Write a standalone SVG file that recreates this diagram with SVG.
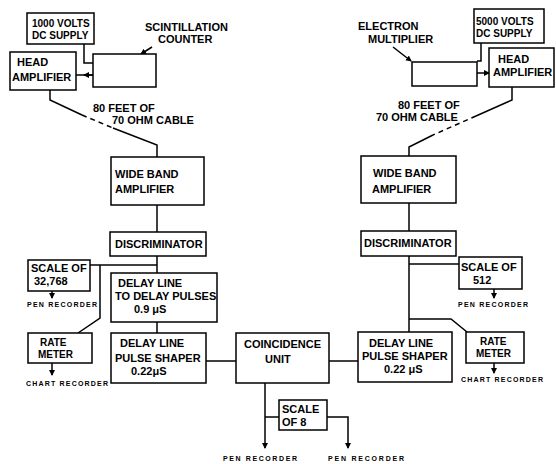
<svg xmlns="http://www.w3.org/2000/svg" width="556" height="464" viewBox="0 0 556 464">
<defs>
<marker id="ah" markerWidth="6" markerHeight="6" refX="5" refY="3" orient="auto" markerUnits="userSpaceOnUse">
<path d="M0,0 L6,3 L0,6 Z" fill="#000"/>
</marker>
<style>
.b{fill:#fff;stroke:#000;stroke-width:1.5}
.l{fill:none;stroke:#000;stroke-width:1.5}
.d{fill:none;stroke:#000;stroke-width:1.5;stroke-dasharray:5 4}
text{font-family:"Liberation Sans",Arial,sans-serif;font-weight:bold;font-size:11px;fill:#000}
.m{font-size:10px}
.s{font-size:7px}
</style>
</defs>
<rect width="556" height="464" fill="#fff"/>
<g id="connectors">
<path class="l" d="M84,44 V63 H93"/>
<path class="l" d="M93,75 H76"/>
<path class="l" d="M93,75 H84" marker-end="url(#ah)"/>
<path class="l" d="M152,47 L141,54" marker-end="url(#ah)"/>
<path class="l" d="M50,90 V100 L82,115"/>
<path class="d" d="M82,115 L113,128"/>
<path class="l" d="M113,128 L157,145 V157"/>
<path class="l" d="M481,43 V61 H477"/>
<path class="l" d="M477,73 H489" marker-end="url(#ah)"/>
<path class="l" d="M393,47 L411,61" marker-end="url(#ah)"/>
<path class="l" d="M512,87 V100 L476,116"/>
<path class="d" d="M476,116 L433,135"/>
<path class="l" d="M433,135 L409,147 V156"/>
<path class="l" d="M157,205 V232"/>
<path class="l" d="M157,256 V273"/>
<path class="l" d="M90,265 H157"/>
<path class="l" d="M100,265 V318 L78,333"/>
<path class="l" d="M52,291 V298" marker-end="url(#ah)"/>
<path class="l" d="M52,363 V375" marker-end="url(#ah)"/>
<path class="l" d="M157,322 V333"/>
<path class="l" d="M206,361 H236"/>
<path class="l" d="M329,361 H358"/>
<path class="l" d="M265,383 V448" marker-end="url(#ah)"/>
<path class="l" d="M265,417 H279"/>
<path class="l" d="M327,417 H348 V448" marker-end="url(#ah)"/>
<path class="l" d="M409,203 V231"/>
<path class="l" d="M409,256 V332"/>
<path class="l" d="M409,264 H459"/>
<path class="l" d="M409,319 H451 L467,332"/>
<path class="l" d="M494,289 V298" marker-end="url(#ah)"/>
<path class="l" d="M494,363 V373" marker-end="url(#ah)"/>
</g>
<g id="supply1000"><rect class="b" x="27" y="13" width="67" height="31"/><text class="m" x="32" y="27">1000 VOLTS</text><text class="m" x="32" y="39">DC SUPPLY</text></g>
<g id="scintillation"><rect class="b" x="93" y="54" width="63" height="33"/></g>
<g id="scintLabel"><text x="145" y="31">SCINTILLATION</text><text x="158" y="43">COUNTER</text></g>
<g id="headAmpL"><rect class="b" x="10" y="52" width="66" height="38"/><text x="17" y="66">HEAD</text><text x="12" y="81">AMPLIFIER</text></g>
<g id="cableL"><text x="93" y="112">80 FEET OF</text><text x="112" y="124">70 OHM CABLE</text></g>
<g id="multLabel"><text x="358" y="30">ELECTRON</text><text x="368" y="43">MULTIPLIER</text></g>
<g id="multiplier"><rect class="b" x="412" y="62" width="65" height="24"/></g>
<g id="supply5000"><rect class="b" x="474" y="9" width="70" height="34"/><text class="m" x="476" y="25">5000 VOLTS</text><text class="m" x="476" y="37">DC SUPPLY</text></g>
<g id="headAmpR"><rect class="b" x="489" y="48" width="65" height="39"/><text x="498" y="63">HEAD</text><text x="493" y="76">AMPLIFIER</text></g>
<g id="cableR"><text x="398" y="109">80 FEET OF</text><text x="376" y="121">70 OHM CABLE</text></g>
<g id="wideL"><rect class="b" x="111" y="157" width="93" height="48"/><text x="115" y="178">WIDE BAND</text><text x="115" y="193">AMPLIFIER</text></g>
<g id="wideR"><rect class="b" x="361" y="156" width="95" height="47"/><text x="373" y="177">WIDE BAND</text><text x="372" y="193">AMPLIFIER</text></g>
<g id="discL"><rect class="b" x="110" y="232" width="96" height="24"/><text x="115" y="248">DISCRIMINATOR</text></g>
<g id="discR"><rect class="b" x="361" y="231" width="95" height="25"/><text x="364" y="247">DISCRIMINATOR</text></g>
<g id="scale32768"><rect class="b" x="28" y="260" width="62" height="31"/><text x="31" y="272">SCALE OF</text><text x="34" y="285">32,768</text></g>
<g id="penL"><text class="s" x="27" y="307" textLength="70" lengthAdjust="spacing">PEN RECORDER</text></g>
<g id="delayPulses"><rect class="b" x="111" y="273" width="106" height="49"/><text x="118" y="287">DELAY LINE</text><text x="115" y="300">TO DELAY PULSES</text><text x="134" y="313">0.9 μS</text></g>
<g id="shaperL"><rect class="b" x="111" y="333" width="95" height="50"/><text x="120" y="347">DELAY LINE</text><text x="115" y="362">PULSE SHAPER</text><text x="131" y="375">0.22μS</text></g>
<g id="rateL"><rect class="b" x="28" y="333" width="64" height="30"/><text class="m" x="40" y="346">RATE</text><text class="m" x="38" y="358">METER</text></g>
<g id="chartL"><text class="s" x="26" y="386" textLength="82" lengthAdjust="spacing">CHART RECORDER</text></g>
<g id="coincidence"><rect class="b" x="236" y="333" width="93" height="50"/><text x="244" y="348">COINCIDENCE</text><text x="265" y="363">UNIT</text></g>
<g id="scale8"><rect class="b" x="279" y="400" width="48" height="30"/><text x="282" y="413">SCALE</text><text x="282" y="426">OF 8</text></g>
<g id="penB1"><text class="s" x="223" y="461" textLength="74" lengthAdjust="spacing">PEN RECORDER</text></g>
<g id="penB2"><text class="s" x="328" y="461" textLength="76" lengthAdjust="spacing">PEN RECORDER</text></g>
<g id="shaperR"><rect class="b" x="358" y="332" width="94" height="50"/><text x="369" y="347">DELAY LINE</text><text x="362" y="360">PULSE SHAPER</text><text x="384" y="373">0.22 μS</text></g>
<g id="scale512"><rect class="b" x="459" y="257" width="63" height="32"/><text x="461" y="271">SCALE OF</text><text x="473" y="284">512</text></g>
<g id="penR"><text class="s" x="458" y="307" textLength="70" lengthAdjust="spacing">PEN RECORDER</text></g>
<g id="rateR"><rect class="b" x="466" y="332" width="58" height="31"/><text class="m" x="480" y="345">RATE</text><text class="m" x="476" y="357">METER</text></g>
<g id="chartR"><text class="s" x="461" y="382" textLength="82" lengthAdjust="spacing">CHART RECORDER</text></g>
</svg>
